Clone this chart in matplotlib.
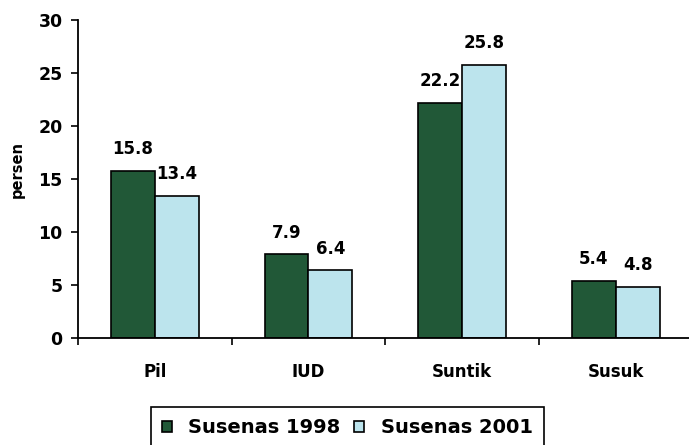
import matplotlib
matplotlib.use("Agg")
import matplotlib.pyplot as plt
import numpy as np

# ----------------------------------------------------------------------------------------------------------------------
#  DATA
# ----------------------------------------------------------------------------------------------------------------------
categories   = ['Pil', 'IUD', 'Suntik', 'Susuk']
series_names = ['Susenas 1998', 'Susenas 2001']
values_1998  = [15.8, 7.9, 22.2, 5.4]
values_2001  = [13.4, 6.4, 25.8, 4.8]
y_ticks      = [0, 5, 10, 15, 20, 25, 30]

# ----------------------------------------------------------------------------------------------------------------------
#  PLOT
# ----------------------------------------------------------------------------------------------------------------------
plt.rcParams['font.family'] = ['DejaVu Sans']
plt.rcParams['font.weight'] = 'bold'

fig = plt.figure(figsize=(6.89, 4.45), dpi=100)
ax  = fig.add_axes([0.1132, 0.2404, 0.892, 0.7146])

x         = np.arange(len(categories))
bar_width = 0.286
colors    = ['#215837', '#bce4ed']

bars_1 = ax.bar(x - bar_width/2, values_1998, bar_width, color=colors[0], edgecolor='black',
                linewidth=1.2, label=series_names[0])
bars_2 = ax.bar(x + bar_width/2, values_2001, bar_width, color=colors[1], edgecolor='black',
                linewidth=1.2, label=series_names[1])

# value labels above each bar
for bars, vals in [(bars_1, values_1998), (bars_2, values_2001)]:
    for b, v in zip(bars, vals):
        ax.annotate('{:.1f}'.format(v), (b.get_x() + b.get_width()/2, v),
                    xytext=(0, 12), textcoords='offset points', ha='center', va='baseline',
                    fontsize=12, fontweight='bold')

ax.set_xlim(-0.5, len(categories) - 0.5)
ax.set_ylim(0, 30)
ax.set_yticks(y_ticks)
ax.set_xticks(x)
ax.set_xticklabels(categories)
ax.set_xticks(np.arange(len(categories) + 1) - 0.5, minor=True)
ax.tick_params(axis='x', which='major', length=0, pad=18, labelsize=12)
ax.tick_params(axis='x', which='minor', length=5, width=1.2, direction='out')
ax.tick_params(axis='y', length=5, width=1.2, direction='out', pad=6, labelsize=12.5)
for lbl in ax.get_xticklabels() + ax.get_yticklabels():
    lbl.set_fontweight('bold')

ax.set_ylabel('persen', fontsize=10.5, fontweight='bold')
ax.yaxis.set_label_coords(-0.087, 0.53)
ax.spines['top'].set_visible(False)
ax.spines['right'].set_visible(False)
ax.spines['left'].set_linewidth(1.3)
ax.spines['bottom'].set_linewidth(1.3)

leg = fig.legend(handles=[bars_1, bars_2], loc='upper left', bbox_to_anchor=(150.5/689, 1 - 406.5/445),
                 ncol=2, fancybox=False, edgecolor='black', framealpha=1,
                 handlelength=0.5, handleheight=0.5, handletextpad=0.85, columnspacing=0.7,
                 prop={'size': 14, 'weight': 'bold'}, borderpad=0.6, borderaxespad=0)
leg.get_frame().set_linewidth(1.2)

fig.savefig('out.png', dpi=100)
